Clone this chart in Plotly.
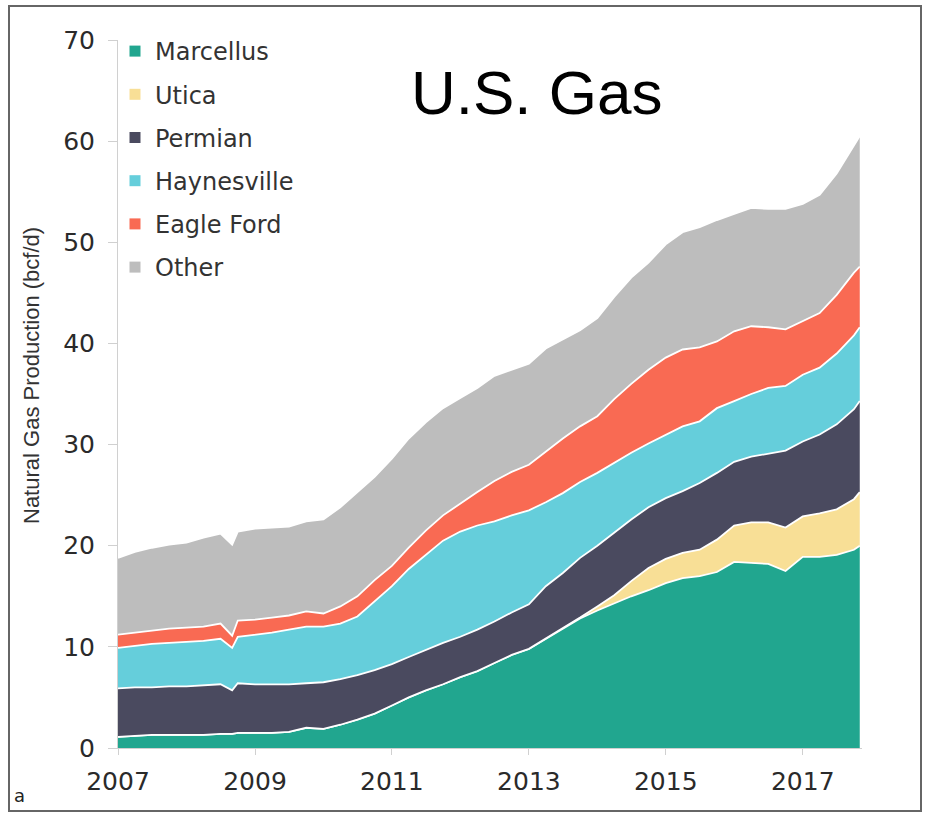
import plotly.graph_objects as go

dates = ["2007-01-01", "2007-04-01", "2007-07-01", "2007-10-01",
         "2008-01-01", "2008-04-01", "2008-07-01", "2008-09-01", "2008-10-01",
         "2009-01-01", "2009-04-01", "2009-07-01", "2009-10-01",
         "2010-01-01", "2010-04-01", "2010-07-01", "2010-10-01",
         "2011-01-01", "2011-04-01", "2011-07-01", "2011-10-01",
         "2012-01-01", "2012-04-01", "2012-07-01", "2012-10-01",
         "2013-01-01", "2013-04-01", "2013-07-01", "2013-10-01",
         "2014-01-01", "2014-04-01", "2014-07-01", "2014-10-01",
         "2015-01-01", "2015-04-01", "2015-07-01", "2015-10-01",
         "2016-01-01", "2016-04-01", "2016-07-01", "2016-10-01",
         "2017-01-01", "2017-04-01", "2017-07-01", "2017-10-01", "2017-11-01"]

marcellus = [1.1, 1.2, 1.3, 1.3, 1.3, 1.3, 1.4, 1.4, 1.5, 1.5, 1.5, 1.6, 2.0,
             1.9, 2.3, 2.8, 3.4, 4.2, 5.0, 5.7, 6.3, 7.0, 7.6, 8.4, 9.2,
             9.8, 10.8, 11.8, 12.8, 13.6, 14.3, 15.0, 15.6, 16.3, 16.8, 17.0, 17.4,
             18.4, 18.3, 18.2, 17.5, 18.9, 18.9, 19.1, 19.6, 20.0]
utica = [0, 0, 0, 0, 0, 0, 0, 0, 0, 0, 0, 0, 0,
         0, 0, 0, 0, 0, 0, 0, 0, 0, 0, 0, 0,
         0, 0, 0, 0.1, 0.4, 0.8, 1.5, 2.2, 2.4, 2.5, 2.6, 3.2,
         3.6, 4.0, 4.1, 4.3, 4.0, 4.3, 4.5, 5.0, 5.3]
permian = [4.8, 4.8, 4.7, 4.8, 4.8, 4.9, 4.9, 4.3, 4.9, 4.8, 4.8, 4.7, 4.4,
           4.6, 4.5, 4.4, 4.3, 4.1, 4.0, 4.0, 4.1, 4.0, 4.1, 4.1, 4.2,
           4.4, 5.2, 5.5, 5.9, 6.0, 6.2, 6.1, 6.0, 6.0, 6.1, 6.6, 6.6,
           6.3, 6.5, 6.8, 7.6, 7.4, 7.8, 8.4, 8.9, 9.0]
haynesville = [4.0, 4.1, 4.3, 4.3, 4.4, 4.4, 4.5, 4.2, 4.6, 4.9, 5.1, 5.4, 5.6,
               5.5, 5.5, 5.8, 6.8, 7.7, 8.7, 9.4, 10.1, 10.4, 10.3, 9.9, 9.6,
               9.3, 8.3, 7.9, 7.5, 7.2, 6.9, 6.6, 6.3, 6.3, 6.4, 6.1, 6.4,
               6.0, 6.2, 6.5, 6.4, 6.6, 6.6, 7.0, 7.3, 7.3]
eagle_ford = [1.3, 1.3, 1.3, 1.4, 1.4, 1.4, 1.5, 1.2, 1.6, 1.5, 1.5, 1.4, 1.5,
              1.3, 1.7, 2.0, 2.1, 2.0, 2.1, 2.4, 2.5, 2.8, 3.3, 4.0, 4.3,
              4.5, 5.0, 5.4, 5.5, 5.6, 6.3, 6.8, 7.3, 7.6, 7.6, 7.3, 6.6,
              6.9, 6.7, 6.0, 5.6, 5.3, 5.4, 5.8, 6.2, 6.0]
other = [7.6, 8.0, 8.2, 8.3, 8.4, 8.8, 8.9, 9.0, 8.8, 9.0, 8.9, 8.8, 8.9,
         9.3, 9.8, 10.3, 10.2, 10.6, 10.8, 10.7, 10.6, 10.4, 10.3, 10.4, 10.1,
         10.0, 10.2, 9.8, 9.5, 9.7, 10.1, 10.5, 10.6, 11.2, 11.6, 11.9, 12.0,
         11.6, 11.7, 11.7, 11.9, 11.6, 11.7, 12.0, 12.6, 12.9]

series_names = ["Marcellus", "Utica", "Permian", "Haynesville", "Eagle Ford", "Other"]
series_values = [marcellus, utica, permian, haynesville, eagle_ford, other]
colors = ["#21a68f", "#f8df96", "#4a4a5f", "#65cedb", "#f96a53", "#bdbdbd"]

tick_years = ["2007", "2009", "2011", "2013", "2015", "2017"]

fig = go.Figure()
for name, vals, col in zip(series_names, series_values, colors):
    fig.add_trace(go.Scatter(
        x=dates, y=vals, name=name, stackgroup="one", mode="lines",
        line=dict(color="white", width=1.8), fillcolor=col,
        showlegend=False, hoverinfo="skip"))

for i, (name, col) in enumerate(zip(series_names, colors)):
    fig.add_trace(go.Scatter(
        x=[None], y=[None], name=name, mode="markers",
        marker=dict(symbol="square", size=11, color=col),
        legendgroup=f"g{i}", showlegend=True))

W, H = 925, 815
ml, mr, mt, mb = 118, 63, 40, 67
pw, ph = W - ml - mr, H - mt - mb

def px_x(p):
    return (p - ml) / pw

def px_y(p):
    return 1 - (p - mt) / ph

tick_font = dict(family="DejaVu Sans", size=25, color="#2a2a2a")

fig.update_layout(
    width=W, height=H,
    margin=dict(l=ml, r=mr, t=mt, b=mb),
    paper_bgcolor="white", plot_bgcolor="white",
    showlegend=True,
    legend=dict(x=px_x(115), y=px_y(29), xanchor="left", yanchor="top",
                bgcolor="rgba(0,0,0,0)", tracegroupgap=9,
                font=dict(family="DejaVu Sans", size=24, color="#333333")),
    xaxis=dict(type="date", range=["2007-01-01", "2017-11-13"],
               tickvals=[y + "-01-01" for y in tick_years], ticktext=tick_years,
               showgrid=False, zeroline=False, showline=True, linecolor="#d0d0d0",
               linewidth=1, ticks="outside", ticklen=6, tickcolor="#d0d0d0",
               ticklabelstandoff=5, tickfont=tick_font),
    yaxis=dict(range=[0, 70], dtick=10, showgrid=False, zeroline=False,
               showline=True, linecolor="#d0d0d0", linewidth=1,
               ticks="outside", ticklen=9, tickcolor="#d0d0d0",
               ticklabelstandoff=8, tickfont=tick_font),
    annotations=[
        dict(text="U.S. Gas", xref="paper", yref="paper", x=px_x(537), y=px_y(92),
             xanchor="center", yanchor="middle", showarrow=False,
             font=dict(family="Liberation Sans", size=62, color="black")),
        dict(text="Natural Gas Production (bcf/d)", xref="paper", yref="paper",
             x=px_x(31), y=px_y(376), xanchor="center", yanchor="middle",
             textangle=-90, showarrow=False,
             font=dict(family="Liberation Sans", size=22, color="#333333")),
        dict(text="a", xref="paper", yref="paper", x=px_x(19), y=px_y(795),
             xanchor="center", yanchor="middle", showarrow=False,
             font=dict(family="DejaVu Sans", size=18, color="#222222")),
    ],
    shapes=[dict(type="rect", xref="paper", yref="paper",
                 x0=px_x(9), x1=px_x(921), y0=px_y(811), y1=px_y(6),
                 line=dict(color="#666666", width=2), fillcolor="rgba(0,0,0,0)",
                 layer="above")],
)

fig.write_html("out.html", config={"displayModeBar": False},
               post_script="document.body.style.margin='0';document.body.style.overflow='hidden';")
